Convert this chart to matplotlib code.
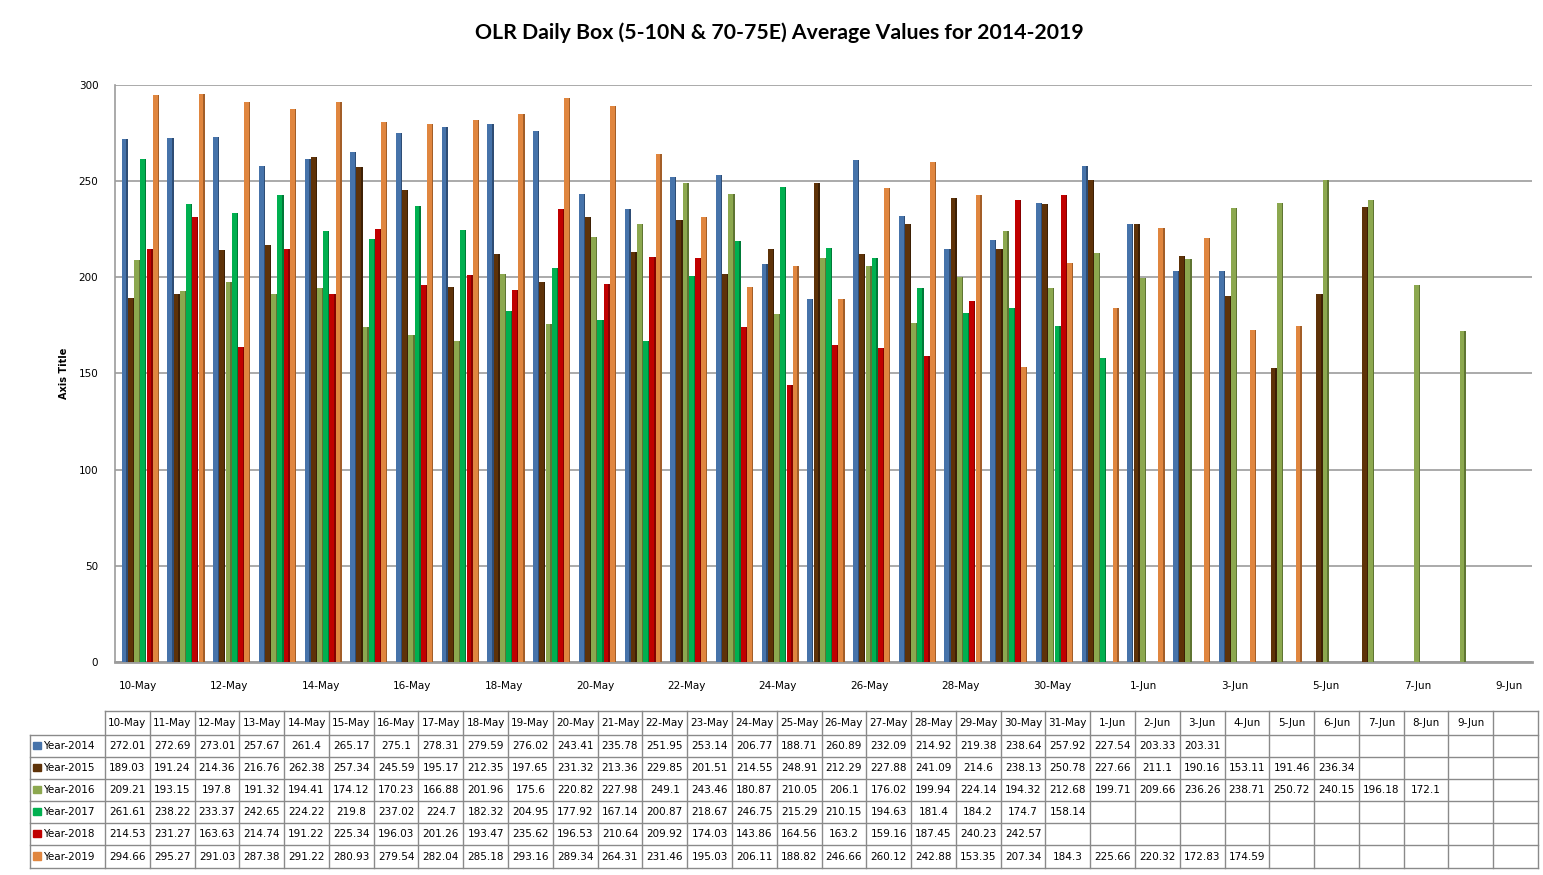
import numpy as np
import matplotlib
matplotlib.use("Agg")
import matplotlib.pyplot as plt
from matplotlib.lines import Line2D
from matplotlib.patches import Rectangle

categories = ["10-May", "11-May", "12-May", "13-May", "14-May", "15-May", "16-May",
              "17-May", "18-May", "19-May", "20-May", "21-May", "22-May", "23-May",
              "24-May", "25-May", "26-May", "27-May", "28-May", "29-May", "30-May",
              "31-May", "1-Jun", "2-Jun", "3-Jun", "4-Jun", "5-Jun", "6-Jun",
              "7-Jun", "8-Jun", "9-Jun"]

y2014 = [272.01, 272.69, 273.01, 257.67, 261.4, 265.17, 275.1, 278.31, 279.59, 276.02,
         243.41, 235.78, 251.95, 253.14, 206.77, 188.71, 260.89, 232.09, 214.92, 219.38,
         238.64, 257.92, 227.54, 203.33, 203.31, None, None, None, None, None, None]
y2015 = [189.03, 191.24, 214.36, 216.76, 262.38, 257.34, 245.59, 195.17, 212.35, 197.65,
         231.32, 213.36, 229.85, 201.51, 214.55, 248.91, 212.29, 227.88, 241.09, 214.6,
         238.13, 250.78, 227.66, 211.1, 190.16, 153.11, 191.46, 236.34, None, None, None]
y2016 = [209.21, 193.15, 197.8, 191.32, 194.41, 174.12, 170.23, 166.88, 201.96, 175.6,
         220.82, 227.98, 249.1, 243.46, 180.87, 210.05, 206.1, 176.02, 199.94, 224.14,
         194.32, 212.68, 199.71, 209.66, 236.26, 238.71, 250.72, 240.15, 196.18, 172.1, None]
y2017 = [261.61, 238.22, 233.37, 242.65, 224.22, 219.8, 237.02, 224.7, 182.32, 204.95,
         177.92, 167.14, 200.87, 218.67, 246.75, 215.29, 210.15, 194.63, 181.4, 184.2,
         174.7, 158.14, None, None, None, None, None, None, None, None, None]
y2018 = [214.53, 231.27, 163.63, 214.74, 191.22, 225.34, 196.03, 201.26, 193.47, 235.62,
         196.53, 210.64, 209.92, 174.03, 143.86, 164.56, 163.2, 159.16, 187.45, 240.23,
         242.57, None, None, None, None, None, None, None, None, None, None]
y2019 = [294.66, 295.27, 291.03, 287.38, 291.22, 280.93, 279.54, 282.04, 285.18, 293.16,
         289.34, 264.31, 231.46, 195.03, 206.11, 188.82, 246.66, 260.12, 242.88, 153.35,
         207.34, 184.3, 225.66, 220.32, 172.83, 174.59, None, None, None, None, None]

series_names = ["Year-2014", "Year-2015", "Year-2016", "Year-2017", "Year-2018", "Year-2019"]
series_values = [y2014, y2015, y2016, y2017, y2018, y2019]
colors = ["#4673AA", "#5E3208", "#8CA84F", "#00B050", "#C00000", "#E0863F"]
side_colors = ["#2E4D75", "#3D2005", "#5F7533", "#007A37", "#850000", "#A35E28"]

W, H = 1543, 875
fig = plt.figure(figsize=(W / 100, H / 100), dpi=100)

# Main chart axes
left, right, top, bottom = 115, 1532, 85, 662
ax = fig.add_axes([left / W, 1 - bottom / H, (right - left) / W, (bottom - top) / H])
n = len(categories)
x = np.arange(n)
bw = 0.136
side = 0.03
for i, (vals, c, sc) in enumerate(zip(series_values, colors, side_colors)):
    v = np.array([np.nan if a is None else a for a in vals], dtype=float)
    pos = x + (i - 2.5) * bw + 0.04
    mask = ~np.isnan(v)
    ax.bar(pos[mask], v[mask], width=bw - side, color=c, align="center", zorder=3, linewidth=0)
    ax.bar(pos[mask] + (bw - side) / 2 + side / 2 - 0.002, v[mask], width=side, color=sc,
           align="center", zorder=3, linewidth=0)

ax.set_xlim(-0.5, n - 0.5)
ax.set_ylim(0, 300)
ax.set_yticks(np.arange(0, 301, 50))
ax.yaxis.grid(True, color="#9c9c9c", linewidth=1.2, zorder=0)
ax.set_xticks(x[::2])
ax.set_xticklabels(categories[::2], fontsize=7.5, family="DejaVu Sans")
ax.tick_params(axis="x", length=0, pad=14)
ax.tick_params(axis="y", length=0, pad=12, labelsize=7.5)
for s in ["top", "right"]:
    ax.spines[s].set_visible(False)
ax.spines["left"].set_color("#9c9c9c")
ax.spines["left"].set_linewidth(1.2)
ax.spines["bottom"].set_color("#9c9c9c")
ax.spines["bottom"].set_linewidth(2.0)
ax.set_ylabel("Axis Title", fontsize=7, fontweight="bold", labelpad=7)

fig.text(779 / W, 1 - 33 / H, "OLR Daily Box (5-10N & 70-75E) Average Values for 2014-2019",
         ha="center", va="center", fontsize=15.3, fontweight="bold", family="Lato")

# Data table drawn in pixel coordinates
tax = fig.add_axes([0, 0, 1, 1])
tax.set_xlim(0, W)
tax.set_ylim(H, 0)
tax.axis("off")
tax.patch.set_alpha(0)

x0, xr = 30, 105
cw = (1538 - 105) / 32
row_y = [711, 735, 757, 779, 801, 823, 845, 868]
gc = "#8a8a8a"
ncols = n + 1
xend = xr + ncols * cw
tax.add_line(Line2D([xr, xend], [row_y[0], row_y[0]], color=gc, lw=1))
for yy in row_y[1:]:
    tax.add_line(Line2D([x0, xend], [yy, yy], color=gc, lw=1))
tax.add_line(Line2D([x0, x0], [row_y[1], row_y[-1]], color=gc, lw=1))
for k in range(ncols + 1):
    xx = xr + k * cw
    tax.add_line(Line2D([xx, xx], [row_y[0], row_y[-1]], color=gc, lw=1))

for j, cat in enumerate(categories):
    tax.text(xr + (j + 0.5) * cw, (row_y[0] + row_y[1]) / 2, cat, ha="center", va="center",
             fontsize=7.5)
for i, (name, vals, c) in enumerate(zip(series_names, series_values, colors)):
    yc = (row_y[i + 1] + row_y[i + 2]) / 2
    tax.add_patch(Rectangle((33, yc - 4.5), 7.5, 7.5, color=c))
    tax.text(43, yc, name, ha="left", va="center", fontsize=7.5)
    for j, v in enumerate(vals):
        if v is None:
            continue
        tax.text(xr + (j + 0.5) * cw, yc, f"{v:g}", ha="center", va="center", fontsize=7.5)

fig.savefig("out.png", dpi=100)
